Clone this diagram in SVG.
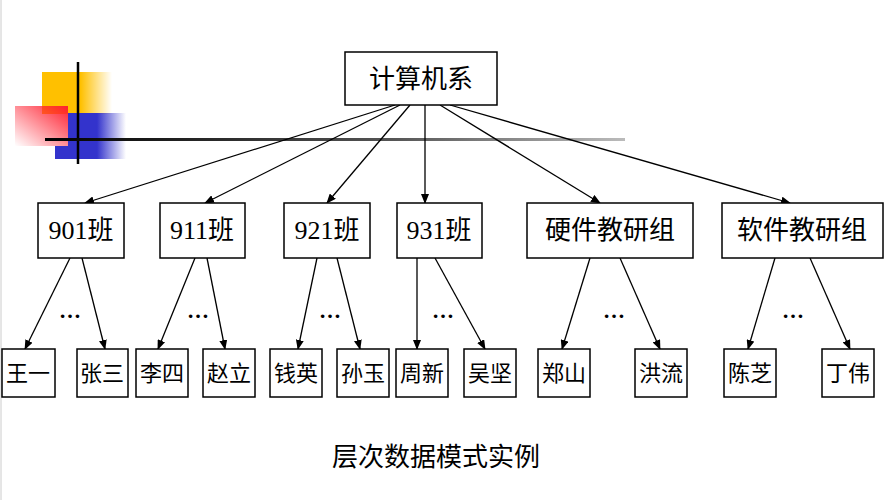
<svg xmlns="http://www.w3.org/2000/svg" width="892" height="500" viewBox="0 0 892 500">
<defs>
<marker id="a" markerWidth="10" markerHeight="8" refX="9" refY="4" orient="auto" markerUnits="userSpaceOnUse"><path d="M0,0 L10,4 L0,8 Z" fill="#000"/></marker>
<linearGradient id="gy" x1="0" x2="1"><stop offset="0.55" stop-color="#ffc000"/><stop offset="1" stop-color="#ffc000" stop-opacity="0"/></linearGradient>
<linearGradient id="gb" x1="0" x2="1"><stop offset="0.5" stop-color="#3333cc"/><stop offset="1" stop-color="#3333cc" stop-opacity="0"/></linearGradient>
<linearGradient id="gr" x1="1" y1="0" x2="0" y2="1"><stop offset="0" stop-color="#ff2030"/><stop offset="1" stop-color="#ff2030" stop-opacity="0"/></linearGradient>
<linearGradient id="gl" x1="0" x2="1"><stop offset="0" stop-color="#000"/><stop offset="0.6" stop-color="#555"/><stop offset="1" stop-color="#bbb"/></linearGradient>
</defs>
<style>
.b{fill:#fff;stroke:#000;stroke-width:1.5}
.t{font-family:"Liberation Serif","Noto Sans CJK SC",serif;font-size:26px;text-anchor:middle;fill:#000}
.s{font-size:22px}
.c line{stroke:#000;stroke-width:1.3;marker-end:url(#a)}
.d{font-family:"Liberation Serif",serif;font-size:22px;font-weight:bold;text-anchor:middle}
</style>
<rect width="892" height="500" fill="#fff"/>
<line x1="1" y1="0" x2="1" y2="500" stroke="#ccc"/>
<g id="deco">
<rect x="42" y="72" width="70" height="42" fill="url(#gy)"/>
<rect x="68" y="113" width="58" height="46" fill="url(#gb)"/>
<rect x="15" y="106" width="53" height="40" fill="url(#gr)"/>
<rect x="55" y="146" width="15" height="13" fill="#3333cc"/>
<line x1="78" y1="62" x2="78" y2="164" stroke="#000" stroke-width="2.5"/>
<rect x="45" y="138" width="580" height="3" fill="url(#gl)"/>
</g>
<g class="c">
<line x1="395" y1="105" x2="85" y2="203"/>
<line x1="400" y1="105" x2="205" y2="203"/>
<line x1="410" y1="105" x2="327" y2="203"/>
<line x1="425" y1="105" x2="425" y2="203"/>
<line x1="440" y1="105" x2="600" y2="203"/>
<line x1="450" y1="105" x2="790" y2="203"/>
<line x1="70" y1="258" x2="25" y2="349"/><line x1="82" y1="258" x2="105" y2="349"/>
<line x1="195" y1="258" x2="158" y2="349"/><line x1="207" y1="258" x2="225" y2="349"/>
<line x1="317" y1="258" x2="298" y2="349"/><line x1="337" y1="258" x2="360" y2="349"/>
<line x1="417" y1="258" x2="417" y2="349"/><line x1="435" y1="258" x2="485" y2="349"/>
<line x1="590" y1="258" x2="562" y2="349"/><line x1="620" y1="258" x2="660" y2="349"/>
<line x1="775" y1="258" x2="748" y2="349"/><line x1="810" y1="258" x2="850" y2="349"/>
</g>
<g class="d"><text x="70" y="318">…</text><text x="198" y="318">…</text><text x="330" y="318">…</text><text x="443" y="318">…</text><text x="614" y="318">…</text><text x="793" y="318">…</text></g>
<g id="root"><rect class="b" x="345" y="52" width="152" height="53"/><text class="t" x="421" y="88">计算机系</text></g>
<g id="n901"><rect class="b" x="38" y="203" width="86" height="55"/><text class="t" x="81" y="239">901班</text></g>
<g id="n911"><rect class="b" x="160" y="203" width="85" height="55"/><text class="t" x="202" y="239">911班</text></g>
<g id="n921"><rect class="b" x="284" y="203" width="86" height="55"/><text class="t" x="327" y="239">921班</text></g>
<g id="n931"><rect class="b" x="397" y="203" width="85" height="55"/><text class="t" x="439" y="239">931班</text></g>
<g id="hw"><rect class="b" x="527" y="203" width="166" height="55"/><text class="t" x="610" y="239">硬件教研组</text></g>
<g id="sw"><rect class="b" x="722" y="203" width="161" height="55"/><text class="t" x="802" y="239">软件教研组</text></g>
<g id="l1"><rect class="b" x="2" y="349" width="53" height="48"/><text class="t s" x="28" y="381">王一</text></g>
<g id="l2"><rect class="b" x="77" y="349" width="51" height="48"/><text class="t s" x="102" y="381">张三</text></g>
<g id="l3"><rect class="b" x="136" y="349" width="52" height="48"/><text class="t s" x="162" y="381">李四</text></g>
<g id="l4"><rect class="b" x="203" y="349" width="52" height="48"/><text class="t s" x="229" y="381">赵立</text></g>
<g id="l5"><rect class="b" x="270" y="349" width="52" height="48"/><text class="t s" x="296" y="381">钱英</text></g>
<g id="l6"><rect class="b" x="337" y="349" width="52" height="48"/><text class="t s" x="363" y="381">孙玉</text></g>
<g id="l7"><rect class="b" x="396" y="349" width="52" height="48"/><text class="t s" x="422" y="381">周新</text></g>
<g id="l8"><rect class="b" x="464" y="349" width="52" height="48"/><text class="t s" x="490" y="381">吴坚</text></g>
<g id="l9"><rect class="b" x="538" y="349" width="52" height="48"/><text class="t s" x="564" y="381">郑山</text></g>
<g id="l10"><rect class="b" x="635" y="349" width="52" height="48"/><text class="t s" x="661" y="381">洪流</text></g>
<g id="l11"><rect class="b" x="724" y="349" width="52" height="48"/><text class="t s" x="750" y="381">陈芝</text></g>
<g id="l12"><rect class="b" x="822" y="349" width="52" height="48"/><text class="t s" x="848" y="381">丁伟</text></g>
<text class="t" x="436" y="466">层次数据模式实例</text>
</svg>
